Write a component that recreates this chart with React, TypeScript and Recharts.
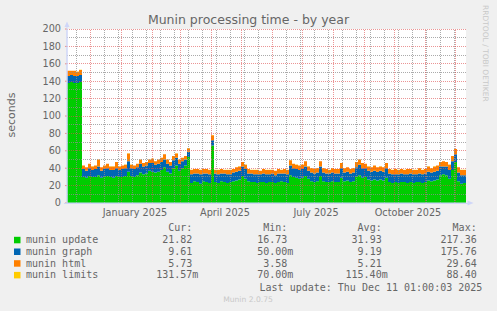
import { AreaChart, Area, XAxis, YAxis, ReferenceLine, CartesianGrid } from "recharts";

// one sample every 3 days, day 0 = 1 January 2025
const firstDay = -54;
const dayStep = 3;

const muninUpdate = [
  138, 139, 138, 138, 139,
  30, 29, 31, 30, 30, 32, 29, 30, 31, 30, 29, 31, 30,
  30, 31, 36, 31, 30, 32, 35, 33, 34, 37, 36,
  35, 36, 38, 41, 36, 34, 40, 43, 37, 40, 43, 53,
  23, 25, 24, 22, 25, 24, 23,
  66,
  24, 23, 25, 24, 23, 24, 25, 26, 27,
  31, 28,
  25, 24, 24, 23, 24, 24, 23, 24, 24, 23, 24, 25, 24, 23,
  32, 30, 29, 28, 29, 31, 28,
  25, 24, 25,
  31,
  25, 24, 24, 25, 24, 24,
  29,
  25, 26, 24, 25,
  30, 32, 29, 30,
  27, 26, 27, 26, 27, 26,
  29,
  24, 23, 24, 23, 24, 24, 23, 24, 23, 24, 24, 23, 24,
  26, 25, 26, 27,
  32, 33, 32,
  28, 38, 47,
  25, 22, 23, 22,
];

const muninGraph = [
  8, 8, 8, 8, 8,
  9, 8, 9, 8, 9, 10, 8, 9, 9, 8, 9, 9, 8,
  9, 9, 12, 9, 9, 9, 10, 9, 9, 9, 10,
  9, 9, 9, 9, 9, 9, 9, 9, 8, 8, 7, 6,
  10, 9, 10, 11, 9, 10, 10,
  6,
  10, 10, 9, 10, 10, 9, 10, 10, 10,
  11, 11,
  9, 10, 9, 10, 9, 10, 10, 9, 10, 9, 10, 9, 10, 10,
  11, 10, 10, 10, 10, 11, 9,
  10, 10, 10,
  11,
  10, 10, 10, 10, 10, 10,
  11,
  10, 10, 10, 10,
  11, 12, 11, 10,
  10, 10, 10, 10, 10, 10,
  11,
  10, 10, 9, 10, 10, 9, 10, 10, 10, 9, 10, 10, 10,
  10, 10, 10, 10,
  10, 9, 10,
  10, 10, 9,
  10, 10, 9, 10,
];

const muninHtml = [
  6, 5, 6, 5, 6,
  4, 4, 5, 4, 4, 8, 4, 4, 5, 4, 4, 7, 4,
  4, 4, 9, 4, 4, 4, 5, 4, 4, 4, 5,
  4, 5, 5, 6, 5, 4, 5, 5, 5, 4, 4, 4,
  5, 5, 5, 5, 5, 5, 5,
  6,
  4, 5, 5, 4, 5, 5, 4, 5, 5,
  5, 5,
  5, 4, 5, 5, 4, 5, 5, 5, 4, 5, 5, 4, 5, 5,
  6, 5, 5, 5, 5, 6, 5,
  5, 5, 5,
  6,
  5, 5, 4, 5, 5, 5,
  6,
  5, 5, 5, 5,
  6, 6, 6, 5,
  5, 5, 6, 5, 5, 5,
  6,
  5, 5, 6, 5, 5, 5, 6, 5, 5, 5, 6, 5, 5,
  6, 5, 6, 6,
  5, 6, 5,
  6, 6, 6,
  6, 6, 6, 6,
];

const muninLimits = [
  0.09, 0.09, 0.08, 0.09, 0.09,
  0.12, 0.11, 0.12, 0.12, 0.11, 0.13, 0.12, 0.11, 0.12, 0.12, 0.11, 0.12, 0.12,
  0.12, 0.11, 0.14, 0.12, 0.11, 0.12, 0.12, 0.11, 0.12, 0.12, 0.12,
  0.12, 0.12, 0.11, 0.13, 0.12, 0.11, 0.12, 0.12, 0.11, 0.12, 0.12, 0.12,
  0.11, 0.11, 0.12, 0.11, 0.11, 0.12, 0.11,
  0.13,
  0.11, 0.11, 0.12, 0.11, 0.11, 0.12, 0.11, 0.11, 0.12,
  0.12, 0.12,
  0.11, 0.11, 0.12, 0.11, 0.11, 0.12, 0.11, 0.11, 0.12, 0.11, 0.11, 0.12, 0.11, 0.11,
  0.12, 0.12, 0.11, 0.12, 0.12, 0.12, 0.11,
  0.11, 0.12, 0.11,
  0.12,
  0.11, 0.12, 0.11, 0.11, 0.12, 0.11,
  0.12,
  0.11, 0.12, 0.11, 0.11,
  0.12, 0.13, 0.12, 0.12,
  0.12, 0.11, 0.12, 0.11, 0.12, 0.11,
  0.12,
  0.11, 0.11, 0.12, 0.11, 0.11, 0.12, 0.11, 0.11, 0.12, 0.11, 0.11, 0.12, 0.11,
  0.12, 0.12, 0.12, 0.12,
  0.13, 0.12, 0.13,
  0.12, 0.13, 0.14,
  0.13, 0.13, 0.13, 0.13,
];

const labelTicks = [14, 104, 195, 287];
const labelNames = ["January 2025", "April 2025", "July 2025", "October 2025"];
const monthStarts = [-31, 0, 31, 59, 90, 120, 151, 181, 212, 243, 273, 304, 334];
const minorDays = [
  -45, -17, -3, 11, 25, 39, 53, 67, 81, 95, 109, 123, 137, 165, 179,
  193, 207, 221, 235, 249, 263, 277, 291, 305, 319, 333,
];
const yTicks = [0, 20, 40, 60, 80, 100, 120, 140, 160, 180, 200];
const yMinor = [10, 30, 50, 70, 90, 110, 130, 150, 170, 190];

const seriesNames = ["munin update", "munin graph", "munin html", "munin limits"];
const seriesColors = ["#00CC00", "#0066B3", "#FF8000", "#FFCC00"];
const curValues = ["21.82", "9.61", "5.73", "131.57m"];
const minValues = ["16.73", "50.00m", "3.58", "70.00m"];
const avgValues = ["31.93", "9.19", "5.21", "115.40m"];
const maxValues = ["217.36", "175.76", "29.64", "88.40"];

const data = muninUpdate.map((v, i) => ({
  day: firstDay + i * dayStep,
  update: v,
  graph: muninGraph[i],
  html: muninHtml[i],
  limits: muninLimits[i],
}));
const lastDay = firstDay + (muninUpdate.length - 1) * dayStep;

const GRID = "rgba(143,143,143,0.75)";
const MGRID = "rgba(222,79,79,0.6)";
const AXIS = "#CFD6F8";
const FONT = "#666666";
const sans = "'DejaVu Sans', sans-serif";
const mono = "'DejaVu Sans Mono', monospace";

const colRight = [192.3, 287.3, 381.7, 476.7];
const rowBase = [243.3, 255, 266.7, 278.4];

const valueX = (right: number, v: string) => (v.endsWith("m") ? right + 6 : right);

const App = () => {
  const cols = [curValues, minValues, avgValues, maxValues];
  return (
    <div
      style={{
        position: "absolute",
        left: 0,
        top: 0,
        width: 497,
        height: 311,
        background: "#F0F0F0",
        overflow: "hidden",
      }}
    >
      <div style={{ position: "absolute", left: 0, top: 0 }}>
        <AreaChart
          width={497}
          height={311}
          data={data}
          margin={{ top: 29, right: 31, bottom: 88, left: 7 }}
        >
          <CartesianGrid horizontal={false} vertical={false} fill="#FFFFFF" />
          <XAxis
            type="number"
            dataKey="day"
            domain={[firstDay, lastDay]}
            ticks={labelTicks}
            interval={0}
            allowDataOverflow
            tickFormatter={(v) => labelNames[labelTicks.indexOf(v)]}
            height={20}
            tickSize={0}
            tickMargin={6}
            tickLine={false}
            axisLine={{ stroke: AXIS }}
            tick={{ fill: FONT, fontSize: 9.7, fontFamily: sans }}
          />
          <YAxis
            type="number"
            domain={[0, 200]}
            ticks={yTicks}
            interval={0}
            width={60}
            tickSize={2}
            tickMargin={4}
            tickLine={{ stroke: MGRID }}
            axisLine={{ stroke: AXIS }}
            tick={{ fill: FONT, fontSize: 9.7, fontFamily: sans }}
          />
          <Area type="stepAfter" dataKey="update" stackId="a" stroke="none" fill="#00CC00" fillOpacity={1} isAnimationActive={false} />
          <Area type="stepAfter" dataKey="graph" stackId="a" stroke="none" fill="#0066B3" fillOpacity={1} isAnimationActive={false} />
          <Area type="stepAfter" dataKey="html" stackId="a" stroke="none" fill="#FF8000" fillOpacity={1} isAnimationActive={false} />
          <Area type="stepAfter" dataKey="limits" stackId="a" stroke="none" fill="#FFCC00" fillOpacity={1} isAnimationActive={false} />
          {yMinor.map((v) => (
            <ReferenceLine key={"hm" + v} y={v} stroke={GRID} strokeDasharray="1 1" shapeRendering="crispEdges" />
          ))}
          {minorDays.map((d) => (
            <ReferenceLine key={"vm" + d} x={d} stroke={GRID} strokeDasharray="1 1" shapeRendering="crispEdges" />
          ))}
          {yTicks.slice(1).map((v) => (
            <ReferenceLine key={"hM" + v} y={v} stroke={MGRID} strokeDasharray="1 1" shapeRendering="crispEdges" />
          ))}
          {monthStarts.map((d) => (
            <ReferenceLine key={"vM" + d} x={d} stroke={MGRID} strokeDasharray="1 1" shapeRendering="crispEdges" />
          ))}
        </AreaChart>
      </div>

      <svg
        width={497}
        height={311}
        style={{ position: "absolute", left: 0, top: 0, pointerEvents: "none" }}
      >
        <text x={248.5} y={23.5} textAnchor="middle" fontFamily={sans} fontSize={12.5} fill={FONT}>
          Munin processing time - by year
        </text>
        <text
          transform="translate(15,115) rotate(-90)"
          textAnchor="middle"
          fontFamily={sans}
          fontSize={11}
          fill={FONT}
        >
          seconds
        </text>
        <text
          transform="translate(483,5) rotate(90)"
          fontFamily={sans}
          fontSize={7.5}
          fill="#C8C8C8"
        >
          RRDTOOL / TOBI OETIKER
        </text>

        {/* axis arrows */}
        <line x1={67} y1={203} x2={67} y2={24} stroke={AXIS} />
        <polygon points="64.5,27 69.5,27 67,21.5" fill={AXIS} />
        <line x1={64} y1={203.5} x2={470} y2={203.5} stroke={AXIS} />
        <polygon points="467.5,200.5 467.5,205.5 473.5,203" fill={AXIS} />

        {/* legend */}
        {["Cur:", "Min:", "Avg:", "Max:"].map((h, c) => (
          <text key={h} x={colRight[c]} y={231} textAnchor="end" fontFamily={mono} fontSize={10} fill={FONT}>
            {h}
          </text>
        ))}
        {seriesNames.map((name, r) => (
          <g key={name}>
            <rect x={14} y={rowBase[r] - 6.5} width={6.5} height={6.5} fill={seriesColors[r]} />
            <text x={26} y={rowBase[r]} fontFamily={mono} fontSize={10} fill={FONT}>
              {name}
            </text>
            {cols.map((col, c) => (
              <text
                key={c}
                x={valueX(colRight[c], col[r])}
                y={rowBase[r]}
                textAnchor="end"
                fontFamily={mono}
                fontSize={10}
                fill={FONT}
              >
                {col[r]}
              </text>
            ))}
          </g>
        ))}
        <text x={482.3} y={290.7} textAnchor="end" fontFamily={mono} fontSize={10} fill={FONT}>
          Last update: Thu Dec 11 01:00:03 2025
        </text>
        <text x={248} y={301.7} textAnchor="middle" fontFamily={sans} fontSize={7.6} fill="#C8C8C8">
          Munin 2.0.75
        </text>
      </svg>
    </div>
  );
};

export default App;
